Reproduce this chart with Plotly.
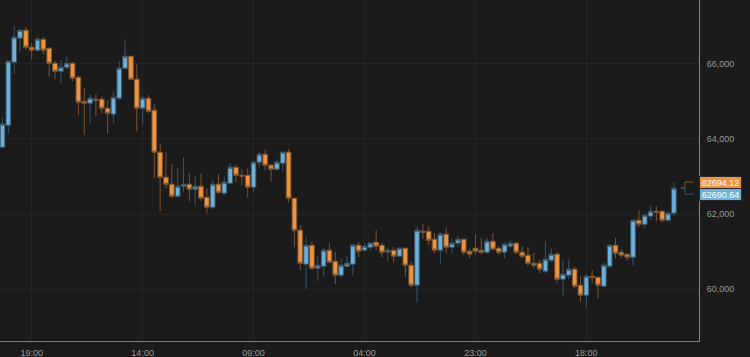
import pandas as pd
import plotly.graph_objects as go

# Hourly candles (index 0 = 14:00 on the first day)
start = "2021-11-14 14:00"
opens = [63780, 64365, 66041, 66679, 66892, 66440, 66360, 66653, 66413, 66014,
         65801, 65908, 66014, 65642, 65003, 64950, 65057, 65057, 64817, 64658,
         65083, 65881, 66200, 65589, 64817, 65083, 64764, 63647, 62982, 62796,
         62476, 62742, 62796, 62663, 62742, 62450, 62184, 62796, 62556, 62822,
         63248, 63035, 63035, 62716, 63381, 63594, 63301, 63195, 63354, 63647,
         62423, 61572, 60668, 61173, 60561, 60614, 61040, 60747, 60375, 60614,
         60668, 61173, 61040, 61120, 61253, 61173, 60987, 61040, 60880, 61093,
         60641, 60109, 61545, 61545, 61333, 61040, 61466, 61120, 61226, 61333,
         61013, 61093, 61040, 60987, 61279, 61093, 60987, 61146, 61226, 60987,
         60907, 60694, 60694, 60481, 60774, 60934, 60269, 60375, 60535, 60109,
         59843, 60348, 60322, 60082, 60614, 61173, 60987, 60934, 60854, 61838,
         61732, 61944, 62077, 62077, 61838, 62024]
highs = [64551, 66080, 66998, 66900, 66972, 66546, 66706, 66706, 66440, 66067,
         66094, 66200, 66041, 65695, 65349, 65190, 65190, 65136, 65030, 65269,
         66067, 66653, 66210, 65988, 65163, 65163, 64924, 63886, 63647, 63328,
         63221, 63514, 63088, 63008, 63088, 62689, 62902, 63062, 62982, 63354,
         63301, 63195, 63221, 63390, 63647, 63727, 63328, 63461, 63673, 63727,
         62430, 61705, 61386, 61279, 60880, 61093, 61226, 60987, 60827, 60880,
         61200, 61253, 61226, 61253, 61572, 61253, 61120, 61120, 61120, 61120,
         60747, 61678, 61732, 61678, 61492, 61519, 61625, 61359, 61412, 61340,
         61093, 61466, 61359, 61359, 61492, 61146, 61253, 61306, 61253, 61146,
         61120, 60960, 60774, 61279, 61093, 60987, 60801, 60801, 60588, 60348,
         60402, 60508, 60330, 60721, 61180, 61359, 61067, 60960, 61845, 62104,
         62024, 62237, 62210, 62104, 62077, 62849]
lows = [63753, 64152, 65722, 66307, 66360, 66121, 66307, 66254, 65668, 65589,
        65482, 65855, 65535, 64631, 64099, 64418, 64604, 64684, 64152, 64418,
        65030, 65881, 65570, 64205, 64392, 64684, 62955, 62077, 62689, 62423,
        62450, 62583, 62343, 62237, 62343, 62024, 62131, 62530, 62503, 62822,
        62849, 62769, 62450, 62583, 63248, 63168, 62875, 63168, 63141, 62317,
        61120, 60508, 60003, 60508, 60215, 60348, 60694, 60136, 60322, 60588,
        60375, 60854, 60987, 61013, 61040, 60854, 60747, 60721, 60854, 60322,
        60056, 59657, 61333, 61173, 60960, 60694, 60960, 60960, 61120, 60907,
        60827, 60934, 60934, 60934, 61040, 60934, 60827, 61093, 60934, 60827,
        60614, 60561, 60428, 60428, 60721, 60162, 59816, 60269, 60029, 59657,
        59524, 60162, 59763, 60082, 60561, 60827, 60827, 60774, 60641, 61652,
        61625, 61838, 61811, 61785, 61785, 61944]
closes = [64392, 66067, 66706, 66892, 66440, 66360, 66653, 66360, 66014, 65801,
          65908, 66014, 65615, 64977, 64950, 65083, 65030, 64817, 64684, 65110,
          65881, 66200, 65589, 64817, 65083, 64737, 63647, 62982, 62796, 62476,
          62742, 62796, 62663, 62742, 62423, 62184, 62796, 62583, 62849, 63248,
          63035, 63008, 62716, 63381, 63594, 63301, 63195, 63381, 63647, 62423,
          61572, 60694, 61173, 60561, 60641, 61040, 60721, 60375, 60641, 60694,
          61173, 61013, 61146, 61226, 61146, 60987, 61040, 60880, 61093, 60641,
          60109, 61572, 61519, 61306, 61040, 61466, 61120, 61226, 61333, 60987,
          60934, 61013, 60987, 61279, 61067, 60987, 61200, 61226, 60987, 60880,
          60694, 60641, 60535, 60801, 60934, 60269, 60402, 60535, 60082, 59843,
          60348, 60322, 60109, 60641, 61173, 60960, 60907, 60854, 61838, 61732,
          61971, 62077, 62051, 61838, 62024, 62690.64]

ask_price = 62694.12
last_price = 62690.64

tick_index = [5, 24, 43, 62, 81, 100]
y_ticks = [60000, 62000, 64000, 66000]

BG = "#1b1b1b"
UP = "#6db0d9"
DOWN = "#ee9440"
UP_LINE = "#3a5566"
DOWN_LINE = "#7d5430"
TXT = "#9a9a9a"

t0 = pd.Timestamp(start)
times = [t0 + pd.Timedelta(hours=i) for i in range(len(opens))]
tickvals = [t0 + pd.Timedelta(hours=i) for i in tick_index]

fig = go.Figure(go.Candlestick(
    x=times, open=opens, high=highs, low=lows, close=closes,
    increasing=dict(fillcolor=UP, line=dict(color=UP_LINE, width=1)),
    decreasing=dict(fillcolor=DOWN, line=dict(color=DOWN_LINE, width=1)),
    whiskerwidth=0, showlegend=False, hoverinfo="skip",
))

last_t = times[-1]
# dashed connectors from the last candle to the price labels
fig.add_shape(type="line", xref="x", yref="y", xsizemode="pixel", ysizemode="pixel",
              xanchor=last_t, yanchor=ask_price, x0=11, x1=22, y0=6, y1=6,
              line=dict(color=DOWN_LINE, width=1, dash="dash"))
fig.add_shape(type="line", xref="x", yref="y", xsizemode="pixel", ysizemode="pixel",
              xanchor=last_t, yanchor=ask_price, x0=11, x1=11, y0=6, y1=0,
              line=dict(color=DOWN_LINE, width=1, dash="dash"))
fig.add_shape(type="line", xref="x", yref="y", xsizemode="pixel", ysizemode="pixel",
              xanchor=last_t, yanchor=last_price, x0=11, x1=11, y0=0, y1=-6,
              line=dict(color=UP_LINE, width=1, dash="dash"))
fig.add_shape(type="line", xref="x", yref="y", xsizemode="pixel", ysizemode="pixel",
              xanchor=last_t, yanchor=last_price, x0=11, x1=22, y0=-6, y1=-6,
              line=dict(color=UP_LINE, width=1, dash="dash"))
fig.add_shape(type="line", xref="x", yref="y", xsizemode="pixel", ysizemode="pixel",
              xanchor=last_t, yanchor=last_price, x0=7, x1=11, y0=0, y1=0,
              line=dict(color="#5d7a8c", width=1))

fig.add_annotation(xref="paper", x=1, xanchor="left", yref="y", y=ask_price,
                   yanchor="middle", yshift=6, text=f"{ask_price:.2f}", showarrow=False,
                   bgcolor=DOWN, bordercolor="#2a2a2a", borderwidth=1, borderpad=0,
                   width=41, height=11, font=dict(color="white", size=9, family="Liberation Sans"))
fig.add_annotation(xref="paper", x=1, xanchor="left", yref="y", y=last_price,
                   yanchor="middle", yshift=-6, text=f"{last_price:.2f}", showarrow=False,
                   bgcolor=UP, bordercolor="#2a2a2a", borderwidth=1, borderpad=0,
                   width=41, height=11, font=dict(color="white", size=9, family="Liberation Sans"))

fig.update_layout(
    width=750, height=357,
    margin=dict(l=0, r=51, t=0, b=16),
    paper_bgcolor=BG, plot_bgcolor=BG,
    boxgap=0.2, boxgroupgap=0,
    font=dict(family="Liberation Sans", size=9, color=TXT),
    xaxis=dict(
        type="date",
        range=[t0 - pd.Timedelta(hours=0.43), t0 + pd.Timedelta(hours=119.3)],
        rangeslider=dict(visible=False),
        tickvals=tickvals, tickformat="%H:%M",
        showgrid=True, gridcolor="#242424", gridwidth=1,
        showline=True, linecolor="#7a7a7a", linewidth=1, mirror=False,
        ticks="", ticklabelstandoff=3, zeroline=False, fixedrange=True,
    ),
    yaxis=dict(
        side="right", range=[58625, 67695],
        tickvals=y_ticks, tickformat=",d",
        showgrid=True, gridcolor="#242424", gridwidth=1,
        showline=True, linecolor="#8a8a8a", linewidth=1,
        ticks="", ticklabelstandoff=5, zeroline=False, fixedrange=True,
    ),
)

fig.write_html("out.html")
